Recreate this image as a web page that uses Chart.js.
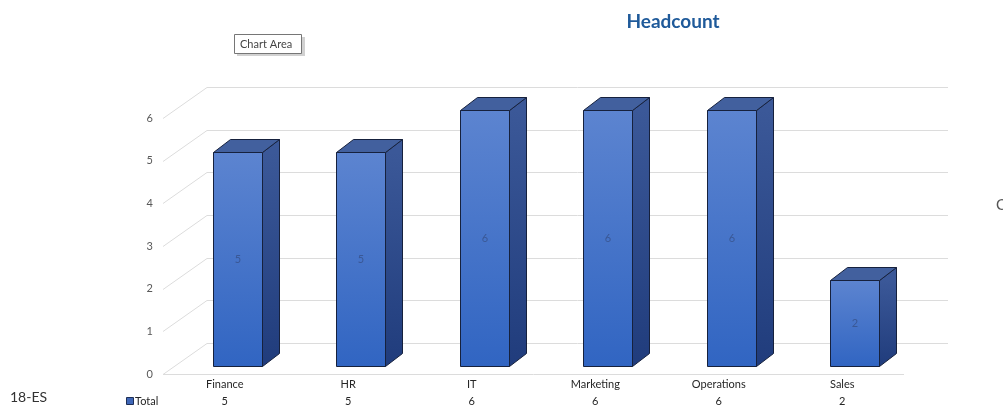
<!DOCTYPE html>
<html>
<head>
<meta charset="utf-8">
<script src="https://cdn.jsdelivr.net/npm/chart.js@4/dist/chart.umd.min.js"></script>
<style>
html,body{margin:0;padding:0;background:#fff;}
#wrap{width:1003px;height:419px;position:relative;}
</style>
</head>
<body>
<div id="wrap"><canvas id="c" width="1003" height="419"></canvas></div>
<script>
const categories = ['Finance', 'HR', 'IT', 'Marketing', 'Operations', 'Sales'];
const totals = [5, 5, 6, 6, 6, 2];
const yTicks = [0, 1, 2, 3, 4, 5, 6];
const seriesName = 'Total';
const chartTitle = 'Headcount';
const sheetLabel = '18-ES';
const tooltipText = 'Chart Area';

const FONT = 'Lato, "Open Sans", sans-serif';
const DEPTH_BACK = {dx: 44, dy: -31};
const BAR_OFF = {dx: 12.5, dy: -8.5};
const BAR_DEPTH = {dx: 17, dy: -13};
const BAR_W = 49;

const threeD = {
  id: 'threeD',
  beforeDatasetsDraw(chart) {
    const ctx = chart.ctx, x = chart.scales.x, y = chart.scales.y;
    const L = x.left, R = x.right;
    ctx.save();
    ctx.strokeStyle = '#DCDCDC';
    ctx.lineWidth = 1;
    yTicks.forEach(v => {
      const py = Math.round(y.getPixelForValue(v)) + 0.5;
      ctx.beginPath();
      ctx.moveTo(L, py);
      ctx.lineTo(L + DEPTH_BACK.dx, py + DEPTH_BACK.dy);
      ctx.lineTo(R + DEPTH_BACK.dx, py + DEPTH_BACK.dy);
      ctx.stroke();
    });
    const p0 = Math.round(y.getPixelForValue(0)) + 0.5;
    ctx.beginPath();
    ctx.moveTo(L, p0);
    ctx.lineTo(R, p0);
    ctx.stroke();
    ctx.restore();
  },
  afterDatasetsDraw(chart) {
    const ctx = chart.ctx, x = chart.scales.x, y = chart.scales.y;
    ctx.save();
    totals.forEach((v, i) => {
      const cx = x.getPixelForValue(i);
      const fx0 = Math.round(cx + BAR_OFF.dx - BAR_W / 2) + 0.5;
      const fx1 = fx0 + BAR_W;
      const fyb = Math.round(y.getPixelForValue(0) + BAR_OFF.dy) + 0.5;
      const fyt = Math.round(y.getPixelForValue(v) + BAR_OFF.dy) + 0.5;
      const dx = BAR_DEPTH.dx, dy = BAR_DEPTH.dy;
      ctx.lineWidth = 1;
      ctx.strokeStyle = '#16213D';
      ctx.lineJoin = 'round';
      let g = ctx.createLinearGradient(0, fyt, 0, fyb);
      g.addColorStop(0, '#3B5898');
      g.addColorStop(1, '#203C7C');
      ctx.fillStyle = g;
      ctx.beginPath();
      ctx.moveTo(fx1, fyt);
      ctx.lineTo(fx1 + dx, fyt + dy);
      ctx.lineTo(fx1 + dx, fyb + dy);
      ctx.lineTo(fx1, fyb);
      ctx.closePath();
      ctx.fill(); ctx.stroke();
      ctx.fillStyle = '#42609E';
      ctx.beginPath();
      ctx.moveTo(fx0, fyt);
      ctx.lineTo(fx0 + dx, fyt + dy);
      ctx.lineTo(fx1 + dx, fyt + dy);
      ctx.lineTo(fx1, fyt);
      ctx.closePath();
      ctx.fill(); ctx.stroke();
      g = ctx.createLinearGradient(0, fyt, 0, fyb);
      g.addColorStop(0, '#5C84D0');
      g.addColorStop(1, '#3165C2');
      ctx.fillStyle = g;
      ctx.fillRect(fx0, fyt, BAR_W, fyb - fyt);
      ctx.strokeRect(fx0, fyt, BAR_W, fyb - fyt);
      ctx.fillStyle = '#3A5896';
      ctx.font = '11px ' + FONT;
      ctx.textAlign = 'center';
      ctx.textBaseline = 'middle';
      ctx.fillText(String(v), (fx0 + fx1) / 2, (fyt + fyb) / 2);
    });

    const rowY = 401;
    ctx.font = '11px ' + FONT;
    ctx.textBaseline = 'middle';
    ctx.fillStyle = '#262626';
    ctx.textAlign = 'center';
    totals.forEach((v, i) => {
      ctx.fillText(String(v), x.getPixelForValue(i), rowY);
    });
    ctx.fillStyle = '#3F67B8';
    ctx.fillRect(126.5, rowY - 3.5, 7, 7);
    ctx.strokeStyle = '#1E2E55';
    ctx.strokeRect(126.5, rowY - 3.5, 7, 7);
    ctx.fillStyle = '#262626';
    ctx.textAlign = 'left';
    ctx.fillText(seriesName, 135, rowY);

    ctx.font = '14px ' + FONT;
    ctx.fillStyle = '#333';
    ctx.fillText(sheetLabel, 10, 397);

    ctx.font = 'bold 19px ' + FONT;
    ctx.fillStyle = '#1F5A9A';
    ctx.textAlign = 'center';
    ctx.fillText(chartTitle, 673, 22);

    ctx.fillStyle = 'rgba(0,0,0,0.18)';
    ctx.fillRect(237, 37, 68, 19);
    ctx.fillStyle = '#fff';
    ctx.fillRect(234, 34, 67, 19);
    ctx.strokeStyle = '#767676';
    ctx.strokeRect(234.5, 34.5, 67, 19);
    ctx.fillStyle = '#444';
    ctx.font = '11px ' + FONT;
    ctx.textAlign = 'left';
    ctx.fillText(tooltipText, 240, 44);

    ctx.font = '15px ' + FONT;
    ctx.fillStyle = '#555';
    ctx.fillText('C', 996, 205);
    ctx.restore();
  }
};

new Chart(document.getElementById('c'), {
  type: 'bar',
  data: {
    labels: categories,
    datasets: [{
      label: seriesName,
      data: totals,
      backgroundColor: 'rgba(0,0,0,0)',
      borderWidth: 0
    }]
  },
  options: {
    responsive: false,
    animation: false,
    events: [],
    layout: {padding: {top: 118, right: 99, left: 0, bottom: 0}},
    plugins: {legend: {display: false}, tooltip: {enabled: false}, title: {display: false}},
    scales: {
      x: {
        grid: {display: false, drawTicks: false, tickLength: 0},
        border: {display: false},
        ticks: {color: '#262626', font: {size: 11, family: FONT}, padding: 4, maxRotation: 0},
        afterFit(s) { s.height = 45; }
      },
      y: {
        min: 0, max: 6,
        grid: {display: false, drawTicks: false, tickLength: 0},
        border: {display: false},
        ticks: {stepSize: 1, color: '#595959', font: {size: 11, family: FONT}, padding: 10},
        afterFit(s) { s.width = 163; }
      }
    }
  },
  plugins: [threeD]
});
</script>
</body>
</html>
